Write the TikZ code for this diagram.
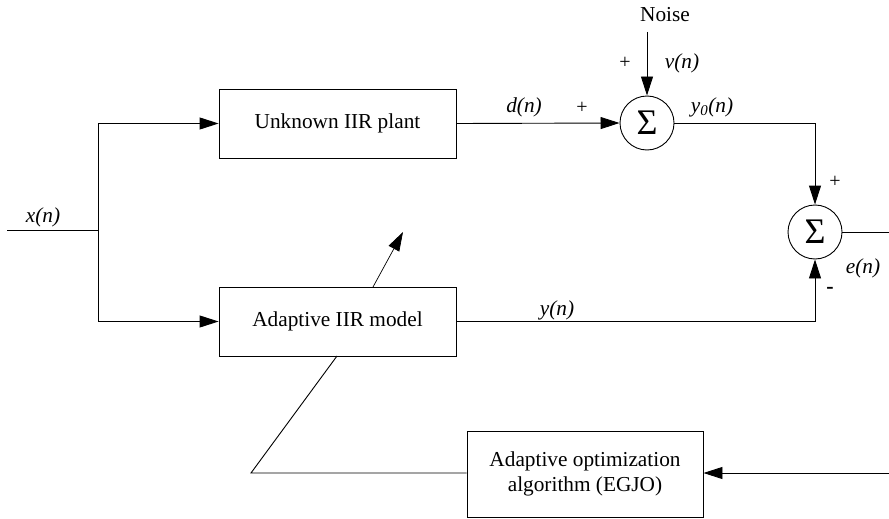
\documentclass[tikz,border=0pt]{standalone}
\usepackage{fontspec}
\setmainfont{Liberation Serif}
\usetikzlibrary{arrows.meta,calc,positioning}

\begin{document}
\begin{tikzpicture}[x=1pt,y=-1pt,>={Triangle[length=19pt,width=12pt]},
  font=\rmfamily\fontsize{21.3}{25}\selectfont,line width=0.9pt,
  block/.style={draw,minimum width=237pt,inner sep=0pt},
  sumnode/.style={draw,circle,minimum size=54pt,inner sep=0pt,font=\rmfamily\fontsize{36}{36}\selectfont},
  lbl/.style={inner sep=0pt,font=\rmfamily\fontsize{21.3}{25}\selectfont\itshape},
  sgn/.style={inner sep=0pt,font=\rmfamily\fontsize{20}{20}\selectfont}]
\useasboundingbox (0,0) rectangle (889,519);
% blocks
\node[block,minimum height=69pt] (plant) at (337.5,123.5) {Unknown IIR plant};
\node[block,minimum height=69pt] (model) at (337.5,321.5) {Adaptive IIR model};
\node[block,minimum width=236pt,minimum height=86pt,align=center] (algo) at (585,474)
  {Adaptive optimization\\algorithm (EGJO)};
\node[sumnode] (s1) at (647,123) {Σ};
\node[sumnode] (s2) at (815,232) {Σ};
% free ends
\coordinate (in) at (7,230);
\coordinate (split) at (98,230);
\coordinate (noise) at (647,32);
\coordinate (out) at (889,232);
\coordinate (fbin) at (889,473);
\coordinate (bend) at (251,473);
\coordinate (mb) at (337,356);
\coordinate (mt) at (373,287);
\coordinate (tip) at (403,232);
% signal paths
\draw (in) -- (split);
\draw[->] (split) |- (plant.west);
\draw[->] (split) |- (model.west);
\draw[->] (plant.east) -- (s1.west);
\draw[->] (noise) -- (s1.north);
\draw[->] (s1.east) -| (s2.north);
\draw[->] (model.east) -| (s2.south);
\draw (s2.east) -- (out);
% adaptation loop
\draw[->] (fbin) -- (algo.east|-fbin);
\draw (algo.west|-fbin) -- (bend) -- (mb);
\draw[->,line width=0.7pt] (mt) -- (tip);
% labels
\node[inner sep=0pt] (noiselbl) at (665,15) {Noise};
\node[lbl] (xl) at (43,217) {x(n)};
\node[lbl] (dl) at (524,107) {d(n)};
\node[lbl] (vl) at (682,63) {v(n)};
\node[lbl] (y0l) at (712,107) {y\textsubscript{0}(n)};
\node[lbl] (yl) at (557,310) {y(n)};
\node[lbl] (el) at (863,268) {e(n)};
\foreach \p/\n in {{(625,63)}/pa,{(582,108)}/pb,{(835,182)}/pc}
  \node[sgn] (\n) at \p {+};
\node[sgn,font=\rmfamily\fontsize{22}{22}\selectfont\bfseries] (mi) at (830,290) {-};
\end{tikzpicture}
\end{document}
